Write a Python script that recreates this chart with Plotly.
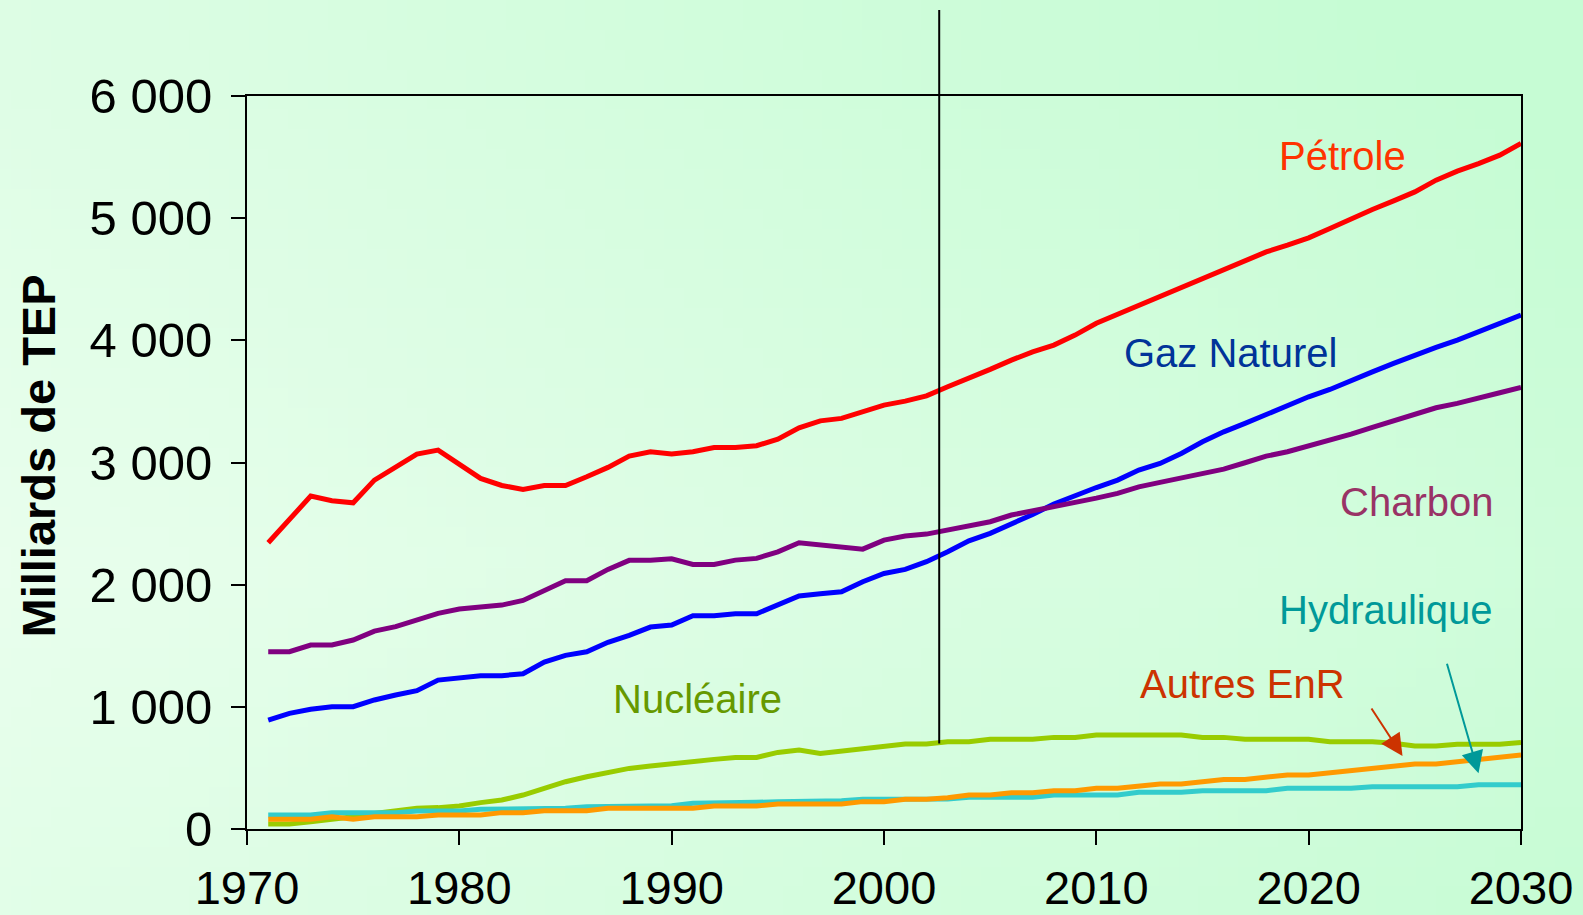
import base64
import struct
import zlib

import plotly.graph_objects as go

# ---------------- data ----------------
years = list(range(1971, 2031))

petrole = [2343, 2534, 2725, 2687, 2670, 2856, 2960, 3069, 3101, 2984,
           2870, 2812, 2780, 2812, 2812, 2883, 2960, 3052, 3088, 3069,
           3088, 3123, 3123, 3137, 3191, 3284, 3341, 3361, 3415, 3470,
           3502, 3546, 3620, 3688, 3762, 3838, 3906, 3961, 4043, 4140,
           4214, 4288, 4362, 4438, 4506, 4580, 4651, 4724, 4779, 4839,
           4915, 4997, 5071, 5142, 5215, 5311, 5385, 5447, 5516, 5611]

gaz = [892, 947, 980, 1001, 1001, 1056, 1097, 1132, 1219, 1238,
       1255, 1255, 1271, 1367, 1421, 1451, 1528, 1585, 1653, 1669,
       1746, 1746, 1762, 1762, 1833, 1907, 1926, 1942, 2024, 2092,
       2125, 2188, 2269, 2359, 2420, 2493, 2575, 2660, 2733, 2795,
       2856, 2938, 2992, 3074, 3169, 3251, 3320, 3396, 3470, 3538,
       3598, 3674, 3742, 3811, 3879, 3942, 4002, 4070, 4138, 4206]

charbon = [1451, 1451, 1506, 1506, 1547, 1620, 1656, 1710, 1765, 1800,
           1817, 1833, 1871, 1950, 2032, 2032, 2125, 2199, 2199, 2212,
           2166, 2166, 2201, 2215, 2269, 2343, 2324, 2308, 2291, 2365,
           2398, 2414, 2447, 2474, 2515, 2570, 2602, 2638, 2673, 2708,
           2747, 2801, 2837, 2875, 2911, 2946, 2998, 3052, 3088, 3134,
           3189, 3232, 3287, 3341, 3396, 3448, 3484, 3532, 3571, 3614]

nucleaire = [41, 41, 60, 79, 101, 128, 147, 169, 175, 188,
             216, 237, 278, 333, 387, 428, 461, 496, 515, 530,
             551, 570, 586, 586, 627, 646, 619, 638, 660, 679,
             696, 696, 715, 715, 734, 734, 734, 750, 750, 769,
             769, 769, 769, 769, 750, 750, 734, 734, 734, 734,
             715, 715, 715, 701, 679, 679, 693, 693, 693, 709]

hydraulique = [115, 115, 115, 134, 134, 134, 134, 147, 147, 147,
               161, 161, 169, 169, 169, 183, 183, 183, 186, 190,
               210, 210, 210, 218, 224, 224, 224, 232, 243, 245,
               245, 245, 245, 259, 259, 259, 259, 278, 278, 278,
               278, 300, 300, 300, 314, 314, 314, 314, 333, 333,
               333, 333, 346, 346, 346, 346, 346, 363, 363, 363]

autres_enr = [79, 79, 79, 101, 79, 101, 101, 101, 115, 115,
              115, 134, 134, 150, 150, 150, 169, 169, 169, 169,
              169, 188, 188, 188, 205, 205, 205, 205, 224, 224,
              243, 243, 256, 278, 278, 297, 297, 314, 314, 333,
              333, 352, 368, 368, 387, 406, 406, 423, 442, 442,
              461, 477, 496, 515, 532, 532, 551, 570, 586, 606]

y_tickvals = [0, 1000, 2000, 3000, 4000, 5000, 6000]
y_ticktext = ["0", "1 000", "2 000", "3 000", "4 000", "5 000", "6 000"]
x_tickvals = [1970, 1980, 1990, 2000, 2010, 2020, 2030]
x_ticktext = ["1970", "1980", "1990", "2000", "2010", "2020", "2030"]

projection_start = 2002.6
y_title = "Milliards de TEP"

# label: (text, x, y, color)
labels = [
    ("Pétrole", 2021.6, 5505, "#FF3300"),
    ("Gaz Naturel", 2016.3, 3900, "#003399"),
    ("Charbon", 2025.1, 2680, "#993366"),
    ("Hydraulique", 2023.6, 1795, "#009999"),
    ("Autres EnR", 2016.9, 1185, "#CC3300"),
    ("Nucléaire", 1991.2, 1067, "#669900"),
]
# arrows: (tip x, tip y, tail dx px, tail dy px, color)
arrows = [
    (2024.42, 597, -32, -49, "#CC3300"),
    (2028.0, 456, -32, -111, "#009999"),
]

# ---------------- layout geometry ----------------
W, H = 1583, 915
ML, MR, MT, MB = 247, 62, 96, 86
PW, PH = W - ML - MR, H - MT - MB


def gradient_png(w, h):
    light = (233, 254, 237)
    dark = (198, 252, 212)
    rows = []
    for j in range(h):
        v = j / (h - 1)
        row = bytearray([0])
        for i in range(w):
            u = i / (w - 1)
            f = 0.75 * u + 0.55 * abs(v - 0.62)
            f = max(0.0, min(1.0, f))
            for c in range(3):
                row.append(int(round(light[c] + (dark[c] - light[c]) * f)))
        rows.append(bytes(row))
    raw = b"".join(rows)

    def chunk(tag, data):
        return (struct.pack(">I", len(data)) + tag + data +
                struct.pack(">I", zlib.crc32(tag + data) & 0xFFFFFFFF))

    png = b"\x89PNG\r\n\x1a\n"
    png += chunk(b"IHDR", struct.pack(">IIBBBBB", w, h, 8, 2, 0, 0, 0))
    png += chunk(b"IDAT", zlib.compress(raw, 9))
    png += chunk(b"IEND", b"")
    return "data:image/png;base64," + base64.b64encode(png).decode()


fig = go.Figure()

series = [
    ("Pétrole", petrole, "#FF0000"),
    ("Gaz Naturel", gaz, "#0000FF"),
    ("Charbon", charbon, "#800080"),
    ("Nucléaire", nucleaire, "#99CC00"),
    ("Hydraulique", hydraulique, "#33CCCC"),
    ("Autres EnR", autres_enr, "#FF9900"),
]
for name, vals, col in series:
    fig.add_trace(go.Scatter(x=years, y=vals, mode="lines", name=name,
                             line=dict(color=col, width=5),
                             showlegend=False, hoverinfo="x+y+name"))

annotations = []
for text, x, y, col in labels:
    annotations.append(dict(x=x, y=y, xref="x", yref="y", text=text,
                            showarrow=False, xanchor="center", yanchor="middle",
                            font=dict(family="Liberation Sans, Arial, sans-serif",
                                      size=40, color=col)))
for x, y, dx, dy, col in arrows:
    annotations.append(dict(x=x, y=y, xref="x", yref="y", text="",
                            showarrow=True, ax=dx, ay=dy, axref="pixel", ayref="pixel",
                            arrowhead=2, arrowsize=2.2, arrowwidth=2, arrowcolor=col,
                            standoff=0, startstandoff=0))
annotations.append(dict(x=(37.5 - ML) / PW, y=(H - MB - 456) / PH, xref="paper", yref="paper",
                        text="<b>" + y_title + "</b>", textangle=-90, showarrow=False,
                        xanchor="center", yanchor="middle",
                        font=dict(family="Liberation Sans, Arial, sans-serif", size=47, color="#000000")))

shapes = [dict(type="line", xref="x", yref="paper",
               x0=projection_start, x1=projection_start,
               y0=700 / 6000, y1=(H - MB - 10) / PH,
               line=dict(color="#000000", width=2))]

fig.update_layout(
    width=W, height=H, autosize=False,
    margin=dict(l=ML, r=MR, t=MT, b=MB, pad=0, autoexpand=False),
    paper_bgcolor="#E0FDE6",
    plot_bgcolor="rgba(0,0,0,0)",
    images=[dict(source=gradient_png(80, 46), xref="paper", yref="paper",
                 x=-ML / PW, y=1 + MT / PH, sizex=W / PW, sizey=H / PH,
                 xanchor="left", yanchor="top", sizing="stretch", layer="below")],
    annotations=annotations,
    shapes=shapes,
    font=dict(family="Liberation Sans, Arial, sans-serif", color="#000000"),
)
fig.update_xaxes(range=[1970, 2030], tickvals=x_tickvals, ticktext=x_ticktext,
                 showgrid=False, zeroline=False, showline=True, linecolor="#000000",
                 linewidth=2, mirror=True, ticks="outside", ticklen=14, tickwidth=2,
                 tickcolor="#000000", ticklabelstandoff=3, automargin=False,
                 tickfont=dict(size=47, family="Liberation Sans, Arial, sans-serif", color="#000000"))
fig.update_yaxes(range=[0, 6000], tickvals=y_tickvals, ticktext=y_ticktext,
                 showgrid=False, zeroline=False, showline=True, linecolor="#000000",
                 linewidth=2, mirror=True, ticks="outside", ticklen=14, tickwidth=2,
                 tickcolor="#000000", ticklabelstandoff=9, automargin=False,
                 tickfont=dict(size=49, family="Liberation Sans, Arial, sans-serif", color="#000000"))

fig.write_html("out.html", config={"displayModeBar": False},
               post_script="document.body.style.margin='0';document.body.style.padding='0';")
